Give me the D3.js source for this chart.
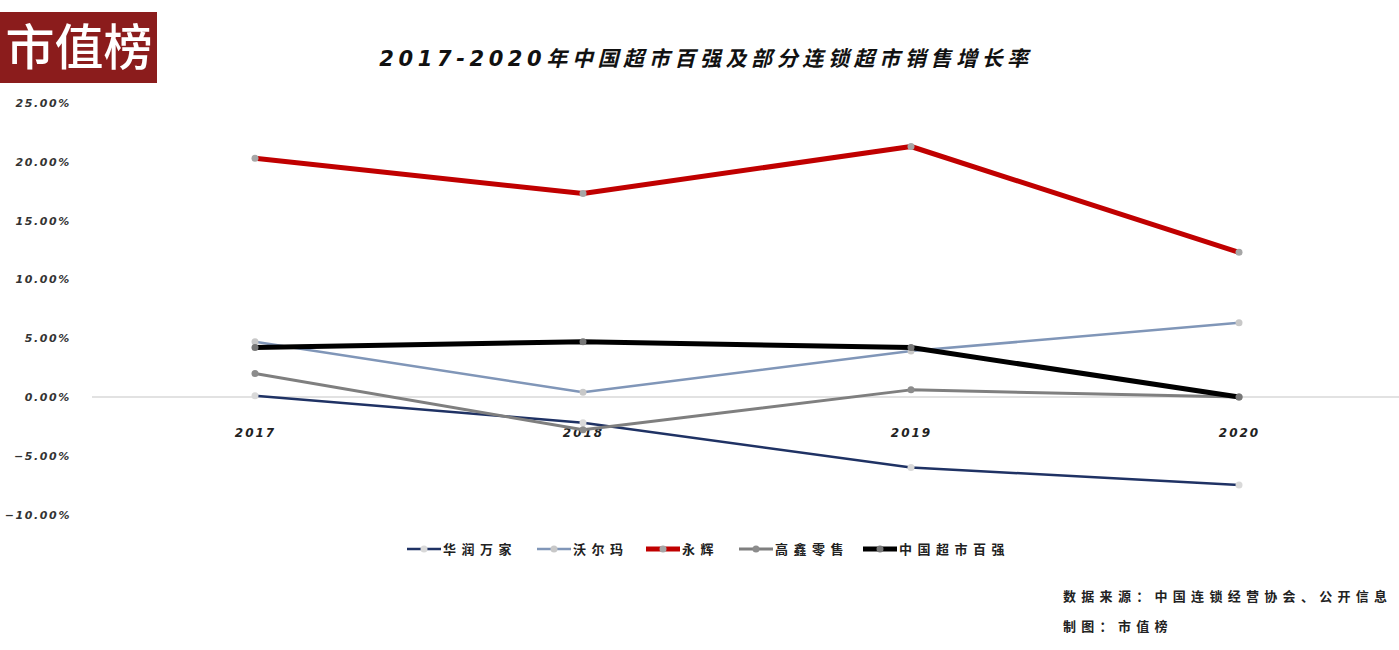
<!DOCTYPE html>
<html><head><meta charset="utf-8">
<script src="https://cdn.jsdelivr.net/npm/d3@7/dist/d3.min.js"></script>
<style>body{margin:0;background:#fff;}svg{display:block;}</style>
</head><body>
<svg id="c" width="1399" height="650"></svg>
<script>
const years = ["2017","2018","2019","2020"];
const seriesNames = ["华润万家","沃尔玛","永辉","高鑫零售","中国超市百强"];
const huarun = [0.1, -2.2, -6.0, -7.5];
const walmart = [4.7, 0.4, 3.9, 6.3];
const yonghui = [20.3, 17.3, 21.3, 12.3];
const gaoxin = [2.0, -2.8, 0.6, 0.0];
const china100 = [4.2, 4.7, 4.2, 0.0];
const yTicks = [25, 20, 15, 10, 5, 0, -5, -10];
const title = "2017-2020年中国超市百强及部分连锁超市销售增长率";
const source = "数据来源：中国连锁经营协会、公开信息";
const maker = "制图：市值榜";

const seriesValues = [huarun, walmart, yonghui, gaoxin, china100];
const colors = ["#1f3264", "#8096b8", "#c00000", "#7f7f7f", "#000000"];
const widths = [2.5, 2.5, 5, 3, 5];
const markerFill = ["#d9d9d9", "#c8c8c8", "#a6a6a6", "#8c8c8c", "#777777"];
const drawOrder = [0, 1, 3, 4, 2];

const svg = d3.select("#c");
const font = "'DejaVu Sans','Noto Sans CJK SC',sans-serif";
const cjk = "'Noto Sans CJK SC',sans-serif";

// logo
svg.append("rect").attr("x",0).attr("y",12).attr("width",157).attr("height",71).attr("fill","#8b1c1c");
svg.append("text").attr("x",79).attr("y",65).attr("text-anchor","middle").attr("fill","#fff")
  .attr("font-family",cjk).attr("font-size",49).attr("font-weight",500).text("市值榜");

// title
svg.append("text").attr("x",706).attr("y",66).attr("text-anchor","middle")
  .attr("font-family",font).attr("font-size",21).attr("font-weight",700).attr("font-style","italic")
  .attr("letter-spacing",4.6).attr("fill","#111").text(title);

const x = d3.scalePoint().domain(years).range([255, 1239]);
const y = d3.scaleLinear().domain([-10, 25]).range([514.5, 103]);

// y tick labels
const yAxis = d3.axisLeft(y).tickValues(yTicks).tickSize(0).tickPadding(0)
  .tickFormat(d => d3.format(".2f")(d) + "%");
const gy = svg.append("g").attr("transform","translate(71,0)").call(yAxis);
gy.select(".domain").remove();
gy.selectAll("text").attr("font-family",font).attr("font-size",11).attr("font-weight",700)
  .attr("font-style","italic").attr("letter-spacing",1.6).attr("fill","#333");

// zero line
svg.append("line").attr("x1",92).attr("x2",1399).attr("y1",y(0)).attr("y2",y(0))
  .attr("stroke","#d9d9d9").attr("stroke-width",1.5);

// x labels
const xAxis = d3.axisBottom(x).tickSize(0).tickPadding(0);
const gx = svg.append("g").attr("transform",`translate(0,${y(0)+32})`).call(xAxis);
gx.select(".domain").remove();
gx.selectAll("text").attr("font-family",font).attr("font-size",12).attr("font-weight",700)
  .attr("font-style","italic").attr("letter-spacing",2).attr("fill","#222");

const line = d3.line().x((d,i)=>x(years[i])).y(d=>y(d));
drawOrder.forEach(si => {
  const g = svg.append("g");
  g.append("path").datum(seriesValues[si]).attr("d",line).attr("fill","none")
    .attr("stroke",colors[si]).attr("stroke-width",widths[si]).attr("stroke-linejoin","round");
  g.selectAll("circle").data(seriesValues[si]).join("circle")
    .attr("cx",(d,i)=>x(years[i])).attr("cy",d=>y(d)).attr("r",3.5)
    .attr("fill",markerFill[si]);
});

// legend
const legX = [407, 537, 646, 739, 863];
const legY = 549;
seriesNames.forEach((n,i) => {
  const g = svg.append("g");
  const lx = legX[i], lw = 34;
  g.append("line").attr("x1",lx).attr("x2",lx+lw).attr("y1",legY).attr("y2",legY)
    .attr("stroke",colors[i]).attr("stroke-width",widths[i]);
  g.append("circle").attr("cx",lx+lw/2).attr("cy",legY).attr("r",3.5).attr("fill",markerFill[i]);
  g.append("text").attr("x",lx+lw+2).attr("y",legY+5).attr("font-family",cjk)
    .attr("font-size",13).attr("font-weight",700).attr("letter-spacing",5.5).attr("fill","#222").text(n);
});

// footer
svg.append("text").attr("x",1063).attr("y",601).attr("font-family",cjk).attr("font-size",13)
  .attr("font-weight",700).attr("letter-spacing",5.3).attr("fill","#222").text(source);
svg.append("text").attr("x",1063).attr("y",631).attr("font-family",cjk).attr("font-size",13)
  .attr("font-weight",700).attr("letter-spacing",5.3).attr("fill","#222").text(maker);
</script>
</body></html>
